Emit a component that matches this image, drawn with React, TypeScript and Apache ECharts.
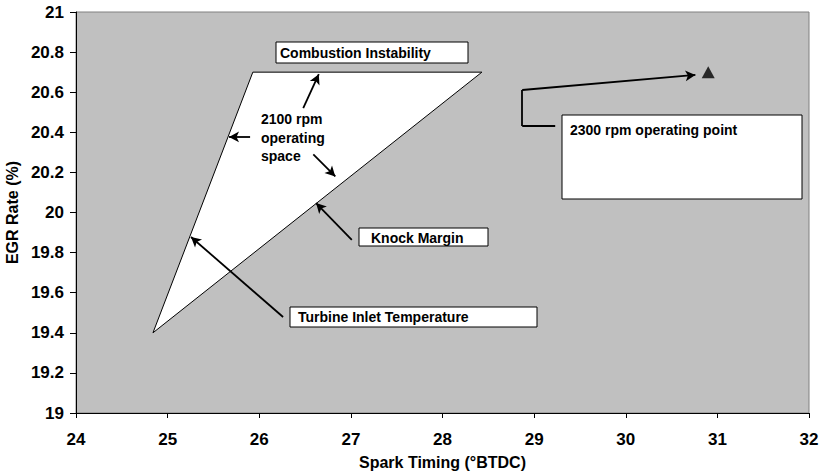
import React, { useEffect, useRef } from "react";
import * as echarts from "echarts";

// Operating space polygon (Spark timing, EGR rate)
const polyX = [24.84, 25.93, 28.43];
const polyY = [19.4, 20.7, 20.7];
// 2300 rpm operating point
const pointX = [30.9];
const pointY = [20.7];

const xMin = 24, xMax = 32, xStep = 1;
const yMin = 19, yMax = 21, yStep = 0.2;

// Arrow annotations in data coordinates: [fromX, fromY, toX, toY]
const arrows = [
  [26.48, 20.52, 26.65, 20.69],
  [26.59, 20.29, 26.83, 20.18],
  [25.9, 20.377, 25.67, 20.377],
  [27.01, 19.863, 26.62, 20.047],
  [26.26, 19.479, 25.255, 19.878],
];
// Elbow connector for 2300 rpm label
const elbowX = [29.23, 28.87, 28.87, 30.76];
const elbowY = [20.431, 20.431, 20.611, 20.686];

const FONT = '"Liberation Sans", Arial, sans-serif';

export default function App() {
  const ref = useRef<HTMLDivElement>(null);
  useEffect(() => {
    if (!ref.current) return;
    const chart = echarts.init(ref.current, null, { renderer: "svg" });

    const mlData: any[] = arrows.map((a) => [
      { coord: [a[0], a[1]], symbol: "none" },
      { coord: [a[2], a[3]], symbol: "arrow" },
    ]);
    for (let i = 0; i < elbowX.length - 1; i++) {
      const last = i === elbowX.length - 2;
      mlData.push([
        { coord: [elbowX[i], elbowY[i]], symbol: "none" },
        { coord: [elbowX[i + 1], elbowY[i + 1]], symbol: last ? "arrow" : "none" },
      ]);
    }

    const box = (x: number, y: number, w: number, h: number) => ({
      type: "rect",
      shape: { x, y, width: w, height: h },
      style: { fill: "#fff", stroke: "#000", lineWidth: 1 },
      z: 100,
    });
    const txt = (x: number, y: number, text: string) => ({
      type: "text",
      x,
      y,
      style: {
        text,
        font: `bold 14px ${FONT}`,
        fill: "#000",
        verticalAlign: "middle",
        align: "left",
      },
      z: 101,
    });

    chart.setOption({
      animation: false,
      textStyle: { fontFamily: FONT },
      grid: {
        left: 76,
        right: 10,
        top: 12,
        bottom: 61,
        containLabel: false,
        outerBoundsMode: "none",
        show: true,
        backgroundColor: "#C0C0C0",
        borderColor: "#808080",
        borderWidth: 1,
      },
      xAxis: {
        type: "value",
        min: xMin,
        max: xMax,
        interval: xStep,
        name: "Spark Timing (°BTDC)",
        nameLocation: "middle",
        nameGap: 41,
        nameTextStyle: { fontSize: 16, fontWeight: "bold", color: "#000", fontFamily: FONT },
        axisLine: { show: true, lineStyle: { color: "#000", width: 1 } },
        axisTick: { show: true, length: 5, lineStyle: { color: "#000" } },
        axisLabel: { fontSize: 17, fontWeight: "bold", color: "#000", margin: 18, fontFamily: FONT },
        splitLine: { show: false },
      },
      yAxis: {
        type: "value",
        min: yMin,
        max: yMax,
        interval: yStep,
        name: "EGR Rate (%)",
        nameLocation: "middle",
        nameGap: 45,
        nameTextStyle: { fontSize: 16, fontWeight: "bold", color: "#000", fontFamily: FONT },
        axisLine: { show: true, lineStyle: { color: "#000", width: 1 } },
        axisTick: { show: true, length: 6, lineStyle: { color: "#000" } },
        axisLabel: {
          fontSize: 17,
          fontWeight: "bold",
          color: "#000",
          margin: 12,
          fontFamily: FONT,
          formatter: (v: number) => String(Math.round(v * 10) / 10),
        },
        splitLine: { show: false },
      },
      series: [
        {
          type: "custom",
          data: polyX.map((x, i) => [x, polyY[i]]),
          renderItem: (params: any, api: any) => {
            if (params.dataIndex !== 0) return null;
            const pts = polyX.map((x, i) => api.coord([x, polyY[i]]));
            return {
              type: "polygon",
              shape: { points: pts },
              style: { fill: "#fff", stroke: "#000", lineWidth: 1 },
            };
          },
          z: 2,
        },
        {
          type: "scatter",
          data: pointX.map((x, i) => [x, pointY[i]]),
          symbol: "triangle",
          symbolSize: [13, 12],
          itemStyle: { color: "#000" },
          z: 5,
          markLine: {
            silent: true,
            symbolSize: [8, 10],
            label: { show: false },
            lineStyle: { color: "#000", width: 1.8, type: "solid" },
            emphasis: { disabled: true },
            data: mlData,
          },
        },
      ],
      graphic: [
        box(276, 42, 192, 21),
        txt(280, 53, "Combustion Instability"),
        txt(261, 119, "2100 rpm"),
        txt(261, 137.5, "operating"),
        txt(261, 156, "space"),
        box(359, 228, 129, 18),
        txt(371, 238, "Knock Margin"),
        box(290, 307, 247, 20),
        txt(298, 317, "Turbine Inlet Temperature"),
        box(562, 115, 240, 84),
        txt(570, 130, "2300 rpm operating point"),
      ],
    });
    return () => chart.dispose();
  }, []);
  return (
    <div
      ref={ref}
      style={{ position: "absolute", left: 0, top: 0, width: 819, height: 474 }}
    />
  );
}
